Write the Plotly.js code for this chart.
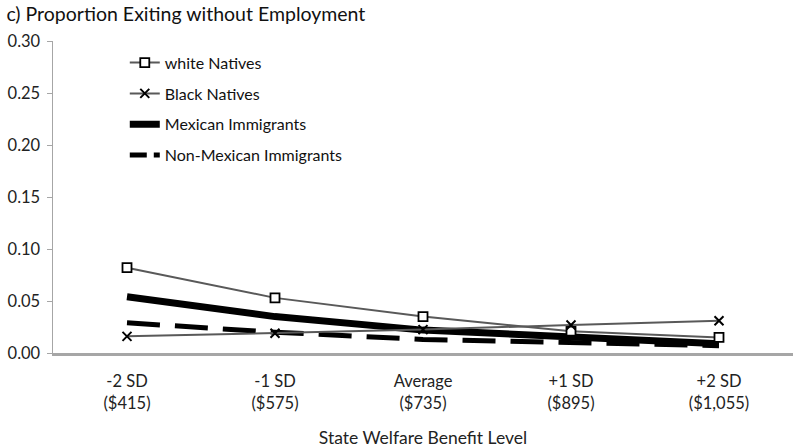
<!DOCTYPE html>
<html><head><meta charset="utf-8">
<script src="https://cdn.plot.ly/plotly-3.0.1.min.js"></script>
<style>html,body{margin:0;padding:0;background:#fff;}#chart{width:800px;height:448px;}</style>
</head><body><div id="chart"></div>
<script>
const categories = ["-2 SD<br>($415)", "-1 SD<br>($575)", "Average<br>($735)", "+1 SD<br>($895)", "+2 SD<br>($1,055)"];
const whiteNatives = [0.082, 0.053, 0.035, 0.021, 0.015];
const blackNatives = [0.016, 0.019, 0.0225, 0.027, 0.031];
const mexicanImmigrants = [0.054, 0.035, 0.022, 0.015, 0.009];
const nonMexicanImmigrants = [0.029, 0.020, 0.013, 0.010, 0.007];
const yTicks = [0, 0.05, 0.10, 0.15, 0.20, 0.25, 0.30];
const yTickText = ["0.00", "0.05", "0.10", "0.15", "0.20", "0.25", "0.30"];

const FONT = "Lato, 'Open Sans', sans-serif";
const traces = [
  {x: categories, y: whiteNatives, name: "white Natives", type: "scatter", mode: "lines+markers",
   legendgroup: "a", legendrank: 1, line: {color: "#595959", width: 2},
   marker: {symbol: "square", size: 9, color: "#ffffff", line: {color: "#000", width: 1.8}}},
  {x: categories, y: blackNatives, name: "Black Natives", type: "scatter", mode: "lines+markers",
   legendgroup: "b", legendrank: 2, line: {color: "#595959", width: 2},
   marker: {symbol: "x-thin-open", size: 9, color: "#000", line: {color: "#000", width: 2}}},
  {x: categories, y: mexicanImmigrants, name: "Mexican Immigrants", type: "scatter", mode: "lines",
   legendgroup: "c", legendrank: 3, line: {color: "#000", width: 7}},
  {x: categories, y: nonMexicanImmigrants, name: "Non-Mexican Immigrants", type: "scatter", mode: "lines",
   legendgroup: "d", legendrank: 4, showlegend: false, line: {color: "#000", width: 5, dash: "33px,15px"}},
  // legend-only entry so the short legend sample shows the dash pattern
  {x: [null], y: [null], name: "Non-Mexican Immigrants", type: "scatter", mode: "lines",
   legendgroup: "d", legendrank: 4, line: {color: "#000", width: 5, dash: "17px,7px"}}
];
// draw order: immigrants underneath natives
const ordered = [traces[2], traces[3], traces[4], traces[0], traces[1]];

const layout = {
  width: 800, height: 448,
  margin: {l: 53, r: 7, t: 41, b: 95},
  paper_bgcolor: "#fff", plot_bgcolor: "#fff",
  font: {family: FONT, color: "#222", size: 16},
  title: {text: "c) Proportion Exiting without Employment", x: 0.008, xanchor: "left", y: 0.968, yanchor: "middle",
          font: {family: FONT, size: 19.5, color: "#111"}},
  showlegend: true,
  legend: {x: 0.097, y: 0.985, xanchor: "left", yanchor: "top", bgcolor: "rgba(0,0,0,0)",
           font: {family: FONT, size: 16, color: "#111"}, tracegroupgap: 7, traceorder: "grouped"},
  xaxis: {type: "category", range: [-0.5, 4.5], showgrid: false, zeroline: false,
          showline: true, linecolor: "#a6a6a6", linewidth: 2.5, ticks: "", ticklabelstandoff: 12,
          tickfont: {family: FONT, size: 16.5, color: "#222"},
          title: {text: "State Welfare Benefit Level", standoff: 20, font: {family: FONT, size: 17.5, color: "#222"}}},
  yaxis: {range: [0, 0.30], tickvals: yTicks, ticktext: yTickText, showgrid: false, zeroline: false,
          showline: true, linecolor: "#a6a6a6", linewidth: 1.5, ticks: "outside", ticklen: 5, tickcolor: "#a6a6a6",
          ticklabelstandoff: 3, tickfont: {family: FONT, size: 16.5, color: "#222"}}
};
Plotly.newPlot("chart", ordered, layout, {staticPlot: true, displayModeBar: false});
</script></body></html>
